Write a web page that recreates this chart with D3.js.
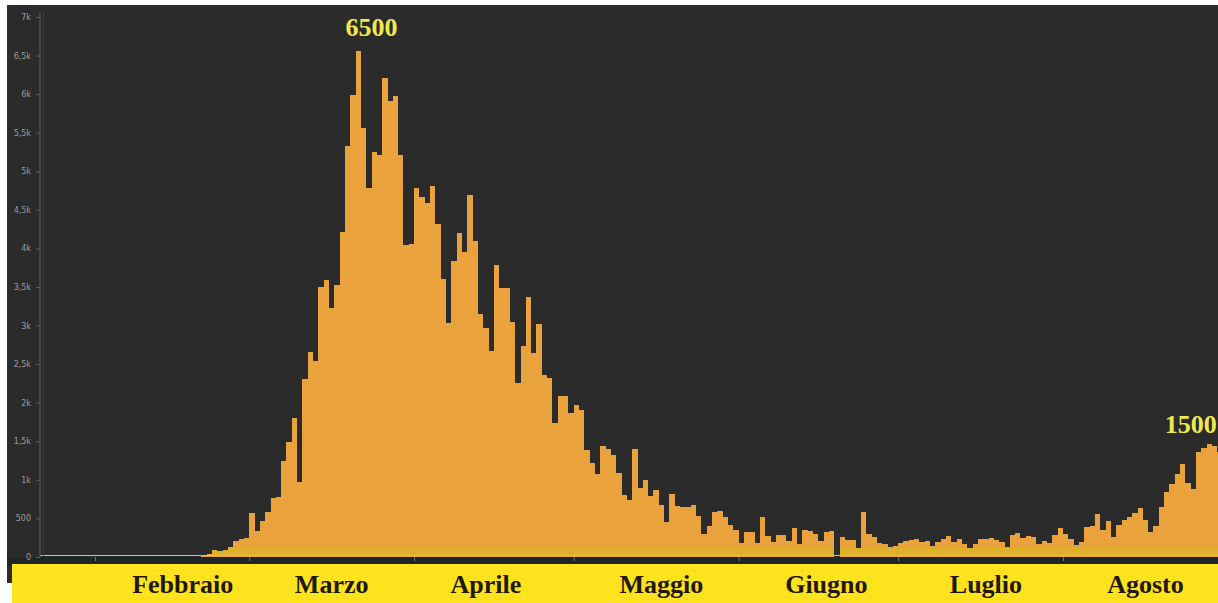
<!DOCTYPE html>
<html>
<head>
<meta charset="utf-8">
<script src="https://cdn.jsdelivr.net/npm/d3@7"></script>
<style>
  html, body { margin: 0; padding: 0; background: #fff; }
  svg { display: block; }
  .yaxis text { fill: #9c9c9c; font: 8px "DejaVu Sans", sans-serif; }
  .yaxis line, .yaxis path { stroke: #5e5e5e; }
  .xaxis line { stroke: #6f7a7a; }
  .xaxis path { display: none; }
  .bar, .foot { shape-rendering: crispEdges; }
  .month { font: bold 26px "Liberation Serif", "Times New Roman", serif; fill: #22180e; }
  .note { font: bold 26px "Liberation Serif", "Times New Roman", serif; fill: #eee94c; }
</style>
</head>
<body>
<div id="chart"></div>
<script>
// Daily new cases, one array per month (series starts 22 Jan 2020).
const startDay = "2020-01-22";
const casesJan = [0, 0, 0, 0, 0, 0, 0, 0, 0, 2];
const casesFeb = [0, 0, 0, 0, 0, 0, 1, 0, 0, 0, 0, 0, 0, 0, 0, 0, 0, 0, 0, 0,
  17, 42, 93, 74, 93, 131, 202, 233, 240];
const casesMar = [566, 342, 466, 587, 769, 778, 1247, 1492, 1797, 977, 2313, 2651, 2547, 3497, 3590, 3233,
  3526, 4207, 5322, 5986, 6557, 5560, 4789, 5249, 5210, 6203, 5909, 5974, 5217, 4050, 4053];
const casesApr = [4782, 4668, 4585, 4805, 4316, 3599, 3039, 3836, 4204, 3951, 4694, 4092, 3153, 2972, 2667,
  3786, 3493, 3491, 3047, 2256, 2729, 3370, 2646, 3021, 2357, 2324, 1739, 2091, 2086, 1872];
const casesMay = [1965, 1900, 1389, 1221, 1075, 1444, 1401, 1327, 1083, 802, 744, 1402, 888, 992, 789, 875,
  675, 451, 813, 665, 642, 652, 669, 531, 300, 397, 584, 593, 516, 416, 355];
const casesJun = [178, 318, 321, 177, 518, 270, 197, 280, 283, 202, 379, 163, 346, 338, 301, 210, 329, 333,
  0, 262, 224, 218, 122, 577, 296, 259, 175, 174, 126, 142];
const casesJul = [187, 201, 223, 235, 192, 208, 138, 193, 229, 276, 188, 234, 169, 114, 163, 230, 233, 249,
  219, 190, 129, 282, 306, 252, 275, 255, 170, 212, 181, 288, 379];
const casesAug = [295, 239, 159, 190, 384, 402, 552, 347, 463, 259, 412, 481, 523, 574, 629, 479, 320, 403,
  642, 845, 947, 1071, 1210, 953, 878, 1367, 1411, 1462, 1444, 1365];

const monthNames = ["Febbraio", "Marzo", "Aprile", "Maggio", "Giugno", "Luglio", "Agosto"];
const monthLabelDays = ["2020-02-17", "2020-03-16", "2020-04-14", "2020-05-17", "2020-06-17", "2020-07-17", "2020-08-16"];
const yTicks = [0, 500, 1000, 1500, 2000, 2500, 3000, 3500, 4000, 4500, 5000, 5500, 6000, 6500, 7000];
const notes = [{ day: "2020-03-24", value: 6500, text: "6500" }, { day: "2020-08-25", value: 1500, text: "1500" }];

const values = [].concat(casesJan, casesFeb, casesMar, casesApr, casesMay, casesJun, casesJul, casesAug);
const t0 = new Date(startDay + "T00:00:00Z");
const data = values.map((v, i) => ({ date: d3.utcDay.offset(t0, i), v }));

const W = 1218, H = 603;
const base = 557;
const dayW = 5.319;
const x = d3.scaleUtc([t0, d3.utcDay.offset(t0, values.length)], [41.8, 41.8 + values.length * dayW]);
const y = d3.scaleLinear([0, 7000], [base, 17]);
const bx = (d) => Math.round(x(d.date));
const bw = (d) => Math.round(x(d3.utcDay.offset(d.date, 1))) - bx(d);

const svg = d3.select("#chart").append("svg").attr("width", W).attr("height", H);

// frame: dark plot, dark strip under baseline, yellow month band
svg.append("rect").attr("x", 7).attr("y", 5).attr("width", W - 7).attr("height", 578).attr("fill", "#2b2b2b");
svg.append("rect").attr("x", 7).attr("y", base).attr("width", W - 7).attr("height", 8).attr("fill", "#1d2525");
svg.append("rect").attr("x", 12).attr("y", 564).attr("width", W - 12).attr("height", H - 564).attr("fill", "#fde21e");

const g = svg.append("g");
g.selectAll("rect.bar").data(data).join("rect")
  .attr("class", "bar")
  .attr("x", bx)
  .attr("width", bw)
  .attr("y", (d) => Math.round(y(d.v)))
  .attr("height", (d) => base - Math.round(y(d.v)))
  .attr("fill", "#e9a23c");

// yellowish foot on every bar
g.selectAll("rect.foot").data(data.filter((d) => d.v > 0)).join("rect")
  .attr("class", "foot")
  .attr("x", bx)
  .attr("width", bw)
  .attr("y", (d) => Math.max(Math.round(y(d.v)), base - 9))
  .attr("height", (d) => Math.max(0, Math.min(base - Math.round(y(d.v)), 9) - 2))
  .attr("fill", "#dfb02c");

// baseline
svg.append("line").attr("x1", 40).attr("x2", W).attr("y1", base - 1.5).attr("y2", base - 1.5)
  .attr("stroke", "#cbbcb0").attr("stroke-width", 1);

const fmt = (d) => (d === 0 ? "0" : d < 1000 ? String(d) : String(d / 1000).replace(".", ",") + "k");
svg.append("g").attr("class", "yaxis").attr("transform", "translate(40,0)")
  .call(d3.axisLeft(y).tickValues(yTicks).tickSize(4).tickPadding(5).tickFormat(fmt))
  .call((s) => s.select(".domain").attr("d", `M0,${y(7000) - 4}V${base}`));
svg.append("line").attr("x1", 43.5).attr("x2", 43.5).attr("y1", 13).attr("y2", base)
  .attr("stroke", "#3a3a3a");

svg.append("g").attr("class", "xaxis").attr("transform", `translate(0,${base})`)
  .call(d3.axisBottom(x).ticks(d3.utcMonth.every(1)).tickSize(4).tickFormat(""))
  .call((s) => s.selectAll(".tick").filter((d) => d.getUTCMonth() === 0).remove());

svg.selectAll("text.month").data(monthNames).join("text")
  .attr("class", "month")
  .attr("text-anchor", "middle")
  .attr("x", (d, i) => x(new Date(monthLabelDays[i] + "T12:00:00Z")))
  .attr("y", 593)
  .text((d) => d);

svg.selectAll("text.note").data(notes).join("text")
  .attr("class", "note")
  .attr("text-anchor", "middle")
  .attr("x", (d) => x(new Date(d.day + "T00:00:00Z")))
  .attr("y", (d) => y(d.value) - (d.value > 5000 ? 20 : 8))
  .text((d) => d.text);
</script>
</body>
</html>
